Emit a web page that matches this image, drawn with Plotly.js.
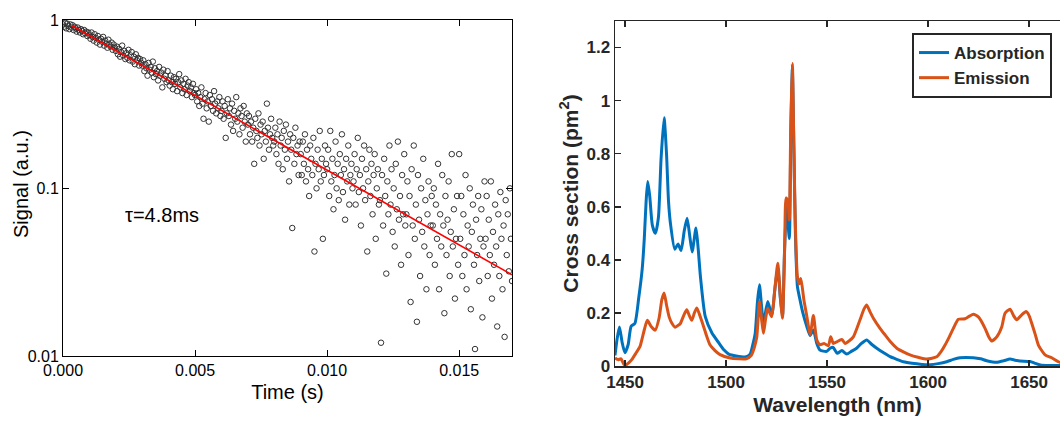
<!DOCTYPE html>
<html><head><meta charset="utf-8">
<script src="https://cdn.plot.ly/plotly-3.0.1.min.js"></script>
<style>html,body{margin:0;padding:0;background:#fff}#chart{width:1060px;height:426px}</style>
</head><body><div id="chart"></div>
<script>
// ---- Left panel: luminescence decay (time in ms, signal in a.u.) ----
const timeMs = [
0.00,0.04,0.08,0.12,0.16,0.20,0.24,0.28,0.32,0.36,0.40,0.44,0.48,0.52,0.56,0.60,0.64,0.68,0.72,0.76,0.80,0.84,0.88,0.92,0.96,
1.00,1.04,1.08,1.12,1.16,1.20,1.24,1.28,1.32,1.36,1.40,1.44,1.48,1.52,1.56,1.60,1.64,1.68,1.72,1.76,1.80,1.84,1.88,1.92,1.96,
2.00,2.04,2.08,2.12,2.16,2.20,2.24,2.28,2.32,2.36,2.40,2.44,2.48,2.52,2.56,2.60,2.64,2.68,2.72,2.76,2.80,2.84,2.88,2.92,2.96,
3.00,3.04,3.08,3.12,3.16,3.20,3.24,3.28,3.32,3.36,3.40,3.44,3.48,3.52,3.56,3.60,3.64,3.68,3.72,3.76,3.80,3.84,3.88,3.92,3.96,
4.00,4.04,4.08,4.12,4.16,4.20,4.24,4.28,4.32,4.36,4.40,4.44,4.48,4.52,4.56,4.60,4.64,4.68,4.72,4.76,4.80,4.84,4.88,4.92,4.96,
5.00,5.04,5.08,5.12,5.16,5.20,5.24,5.28,5.32,5.36,5.40,5.44,5.48,5.52,5.56,5.60,5.64,5.68,5.72,5.76,5.80,5.84,5.88,5.92,5.96,
6.00,6.04,6.08,6.12,6.16,6.20,6.24,6.28,6.32,6.36,6.40,6.44,6.48,6.52,6.56,6.60,6.64,6.68,6.72,6.76,6.80,6.84,6.88,6.92,6.96,
7.00,7.04,7.08,7.12,7.16,7.20,7.24,7.28,7.32,7.36,7.40,7.44,7.48,7.52,7.56,7.60,7.64,7.68,7.72,7.76,7.80,7.84,7.88,7.92,7.96,
8.00,8.04,8.08,8.12,8.16,8.20,8.24,8.28,8.32,8.36,8.40,8.44,8.48,8.52,8.56,8.60,8.64,8.68,8.72,8.76,8.80,8.84,8.88,8.92,8.96,
9.00,9.04,9.08,9.12,9.16,9.20,9.24,9.28,9.32,9.36,9.40,9.44,9.48,9.52,9.56,9.60,9.64,9.68,9.72,9.76,9.80,9.84,9.88,9.92,9.96,
10.00,10.04,10.08,10.12,10.16,10.20,10.24,10.28,10.32,10.36,10.40,10.44,10.48,10.52,10.56,10.60,10.64,10.68,10.72,10.76,10.80,10.84,10.88,10.92,10.96,
11.00,11.04,11.08,11.12,11.16,11.20,11.24,11.28,11.32,11.36,11.40,11.44,11.48,11.52,11.56,11.60,11.64,11.68,11.72,11.76,11.80,11.84,11.88,11.92,11.96,
12.00,12.04,12.08,12.12,12.16,12.20,12.24,12.28,12.32,12.36,12.40,12.44,12.48,12.52,12.56,12.60,12.64,12.68,12.72,12.76,12.80,12.84,12.88,12.92,12.96,
13.00,13.04,13.08,13.12,13.16,13.20,13.24,13.28,13.32,13.36,13.40,13.44,13.48,13.52,13.56,13.60,13.64,13.68,13.72,13.76,13.80,13.84,13.88,13.92,13.96,
14.00,14.04,14.08,14.12,14.16,14.20,14.24,14.28,14.32,14.36,14.40,14.44,14.48,14.52,14.56,14.60,14.64,14.68,14.72,14.76,14.80,14.84,14.88,14.92,14.96,
15.00,15.04,15.08,15.12,15.16,15.20,15.24,15.28,15.32,15.36,15.40,15.44,15.48,15.52,15.56,15.60,15.64,15.68,15.72,15.76,15.80,15.84,15.88,15.92,15.96,
16.00,16.04,16.08,16.12,16.16,16.20,16.24,16.28,16.32,16.36,16.40,16.44,16.48,16.52,16.56,16.60,16.64,16.68,16.72,16.76,16.80,16.84,16.88,16.92,16.96,
17.00];
const signal = [
0.95,0.92,0.97,0.90,0.96,0.93,0.89,0.95,0.91,0.94,0.88,0.92,0.90,0.86,0.91,0.88,0.85,0.89,0.87,0.83,0.88,0.84,0.86,0.81,0.85,
0.82,0.78,0.85,0.80,0.76,0.83,0.79,0.74,0.81,0.77,0.72,0.78,0.75,0.80,0.71,0.76,0.73,0.69,0.77,0.72,0.70,0.74,0.67,0.72,0.69,
0.66,0.70,0.63,0.68,0.61,0.65,0.71,0.62,0.66,0.59,0.64,0.60,0.67,0.58,0.62,0.65,0.57,0.61,0.55,0.63,0.58,0.60,0.54,0.59,0.56,
0.54,0.58,0.50,0.55,0.52,0.47,0.56,0.51,0.53,0.49,0.57,0.46,0.52,0.48,0.50,0.44,0.53,0.47,0.49,0.40,0.51,0.45,0.47,0.43,0.50,
0.44,0.41,0.47,0.43,0.39,0.46,0.42,0.45,0.38,0.43,0.48,0.40,0.44,0.37,0.42,0.39,0.45,0.36,0.41,0.43,0.38,0.40,0.35,0.42,0.37,
0.36,0.39,0.33,0.37,0.31,0.35,0.40,0.32,0.26,0.34,0.37,0.30,0.33,0.25,0.36,0.31,0.34,0.29,0.38,0.32,0.28,0.33,0.30,0.35,0.27,
0.29,0.33,0.26,0.31,0.20,0.28,0.34,0.27,0.30,0.24,0.32,0.22,0.29,0.26,0.35,0.25,0.28,0.21,0.30,0.27,0.23,0.31,0.25,0.19,0.28,
0.24,0.27,0.21,0.25,0.19,0.23,0.14,0.26,0.22,0.20,0.28,0.18,0.24,0.21,0.25,0.15,0.22,0.19,0.32,0.23,0.17,0.21,0.26,0.20,0.18,
0.19,0.23,0.16,0.21,0.14,0.25,0.18,0.20,0.13,0.22,0.17,0.24,0.15,0.19,0.11,0.21,0.17,0.058,0.20,0.14,0.23,0.16,0.18,0.12,0.19,
0.16,0.12,0.19,0.14,0.21,0.11,0.17,0.13,0.09,0.18,0.15,0.12,0.20,0.042,0.14,0.10,0.17,0.13,0.22,0.11,0.15,0.050,0.12,0.18,0.14,
0.13,0.17,0.09,0.22,0.11,0.15,0.075,0.12,0.19,0.10,0.14,0.085,0.16,0.12,0.21,0.095,0.13,0.065,0.15,0.11,0.18,0.08,0.12,0.14,0.10,
0.11,0.16,0.08,0.13,0.20,0.095,0.12,0.06,0.15,0.10,0.18,0.085,0.13,0.042,0.11,0.17,0.09,0.14,0.07,0.12,0.16,0.05,0.10,0.13,0.08,
0.085,0.012,0.12,0.06,0.15,0.09,0.031,0.11,0.07,0.18,0.08,0.13,0.055,0.10,0.045,0.14,0.075,0.19,0.065,0.09,0.035,0.12,0.07,0.16,0.06,
0.07,0.11,0.04,0.09,0.021,0.13,0.06,0.18,0.05,0.08,0.016,0.12,0.065,0.03,0.10,0.055,0.15,0.045,0.085,0.025,0.07,0.11,0.04,0.06,0.09,
0.06,0.10,0.035,0.08,0.05,0.14,0.025,0.07,0.045,0.12,0.06,0.018,0.09,0.04,0.065,0.11,0.03,0.055,0.16,0.045,0.075,0.022,0.05,0.09,0.035,
0.16,0.05,0.09,0.03,0.07,0.04,0.12,0.025,0.06,0.045,0.10,0.019,0.055,0.08,0.035,0.011,0.065,0.04,0.09,0.028,0.05,0.075,0.017,0.045,0.11,
0.05,0.09,0.03,0.065,0.04,0.11,0.022,0.055,0.035,0.08,0.045,0.015,0.07,0.03,0.095,0.05,0.025,0.06,0.013,0.085,0.04,0.07,0.032,0.1,0.05,
0.028];
// single-exponential fit (tau = 4.8 ms): end points of the red line
const fitTimeMs = [0.34, 17.0];
const fitSignal = [0.933, 0.0305];
const tauLabel = "τ=4.8ms";

// ---- Right panel: cross sections ----
const wavelengthAbs = [1445,1446,1447.2,1448.5,1449.9,1451.5,1453,1454.8,1456.8,1458.4,1459.5,1460.4,1461.2,1462.2,1463.5,1465,1466.5,1467.8,1469.3,1470.5,1471.5,1472.4,1474.6,1476.2,1477.7,1479.3,1480.7,1482,1483.2,1485.1,1486.2,1487.3,1489.7,1493,1496.4,1499,1501.3,1505,1510,1511.9,1513.2,1514.4,1515.5,1516.5,1517.5,1518.5,1520.6,1522.6,1524.3,1525.6,1526.8,1527.9,1529,1530,1531.3,1532,1532.8,1533.6,1534.3,1535.3,1536.3,1538,1540,1541.6,1543.2,1544.9,1546.5,1549.8,1551.5,1553,1555,1557.3,1559.7,1562,1564.6,1567,1569.6,1572,1574.6,1578,1581.2,1584.5,1587.8,1592,1597,1601,1605,1609.2,1612.5,1615.8,1622.4,1626,1629,1634,1637.5,1640.6,1643,1645.5,1650.5,1653,1655.6,1660,1666];
const absorption = [0.04,0.10,0.147,0.09,0.05,0.08,0.15,0.16,0.26,0.36,0.48,0.62,0.695,0.64,0.53,0.50,0.56,0.78,0.935,0.80,0.62,0.54,0.44,0.46,0.435,0.51,0.557,0.49,0.43,0.52,0.44,0.337,0.186,0.124,0.087,0.06,0.045,0.038,0.035,0.045,0.08,0.123,0.24,0.306,0.23,0.161,0.243,0.192,0.30,0.37,0.26,0.186,0.45,0.60,0.48,0.85,1.12,0.80,0.50,0.30,0.26,0.20,0.148,0.115,0.136,0.085,0.06,0.055,0.067,0.07,0.048,0.058,0.045,0.055,0.067,0.085,0.098,0.082,0.067,0.05,0.035,0.025,0.016,0.01,0.006,0.005,0.009,0.016,0.025,0.031,0.031,0.027,0.02,0.014,0.02,0.026,0.022,0.019,0.017,0.01,0.004,0.002,0.002];
const wavelengthEm = [1445,1446.5,1448,1449,1450,1451.5,1453.3,1455.5,1457.4,1459.3,1461,1462.8,1464.9,1466.8,1468.2,1469.3,1470.5,1471.8,1473.1,1474.8,1476,1477.2,1479,1480.5,1481.8,1483,1484.3,1485.5,1487,1488.8,1490.5,1492,1494.5,1497,1502,1506,1510,1512.5,1514,1515.2,1516.5,1517.5,1518.5,1519.6,1520.6,1521.6,1522.6,1524,1525.6,1526.8,1527.9,1529,1529.7,1530.6,1531.3,1532,1532.8,1533.5,1534.2,1535.3,1536.2,1537,1538.5,1540,1541.6,1543.2,1544.9,1546.5,1548.5,1550.6,1551.8,1553.1,1554.5,1557.3,1558.9,1561,1563,1566.3,1568.3,1569.6,1571.2,1572.9,1576.2,1578.7,1581.5,1584.5,1588,1591,1595,1599.4,1604.3,1606.5,1608.4,1610.5,1612.5,1615,1618.3,1620.5,1622.4,1625,1628.2,1630,1631.5,1634,1636.5,1638.1,1640.6,1642.3,1643.9,1646,1648.5,1650,1651.3,1653,1654.6,1657.9,1661.2,1664.5,1666];
const emission = [0.03,0.024,0.027,0.012,0.002,0.01,0.024,0.05,0.074,0.13,0.172,0.15,0.135,0.18,0.25,0.275,0.23,0.185,0.162,0.146,0.152,0.158,0.19,0.212,0.19,0.172,0.20,0.219,0.19,0.15,0.11,0.08,0.058,0.043,0.03,0.027,0.027,0.04,0.07,0.11,0.243,0.18,0.123,0.18,0.218,0.20,0.186,0.28,0.387,0.27,0.18,0.45,0.633,0.62,0.55,0.90,1.14,0.85,0.56,0.337,0.31,0.33,0.25,0.186,0.117,0.19,0.098,0.08,0.085,0.076,0.11,0.085,0.09,0.10,0.085,0.095,0.11,0.174,0.215,0.23,0.205,0.18,0.142,0.117,0.09,0.067,0.052,0.042,0.033,0.026,0.035,0.055,0.079,0.11,0.142,0.176,0.178,0.188,0.195,0.184,0.142,0.11,0.094,0.11,0.148,0.199,0.214,0.19,0.174,0.19,0.205,0.19,0.161,0.12,0.079,0.042,0.031,0.016,0.012];

const xTicksLeft = [0, 0.005, 0.010, 0.015];
const xMinorLeft = [0.0025, 0.0075, 0.0125];
const yTicksLeft = [0.01, 0.1, 1];
const yTickTextLeft = ['0.01', '0.1', '1'];
const yMinorLeft = [0.02,0.03,0.04,0.05,0.06,0.07,0.08,0.09,0.2,0.3,0.4,0.5,0.6,0.7,0.8,0.9];
const xTicksRight = [1450, 1500, 1550, 1600, 1650];
const yTicksRight = [0, 0.2, 0.4, 0.6, 0.8, 1, 1.2];
const yTickTextRight = ['0', '0.2', '0.4', '0.6', '0.8', '1', '1.2'];

const FONT = 'Liberation Sans, Arial, Helvetica, sans-serif';
const toSec = a => a.map(v => v / 1000);
const LEFT_X_RANGE = [0, 0.017];
const LEFT_Y_RANGE = [-2, 0.004];

const traces = [
  {x: toSec(timeMs), y: signal, type: 'scatter', mode: 'markers', xaxis: 'x', yaxis: 'y',
   marker: {symbol: 'circle-open', size: 5.5, color: '#333', line: {width: 1, color: '#333'}}, showlegend: false},
  {x: toSec(fitTimeMs), y: fitSignal, type: 'scatter', mode: 'lines', xaxis: 'x', yaxis: 'y',
   line: {color: '#ff0000', width: 1.6}, showlegend: false},
  {x: wavelengthAbs, y: absorption, type: 'scatter', mode: 'lines', name: 'Absorption', xaxis: 'x2', yaxis: 'y2',
   line: {color: '#0072BD', width: 3, shape: 'spline', smoothing: 0.6}},
  {x: wavelengthEm, y: emission, type: 'scatter', mode: 'lines', name: 'Emission', xaxis: 'x2', yaxis: 'y2',
   line: {color: '#D95319', width: 3, shape: 'spline', smoothing: 0.6}}
];

const layout = {
  width: 1060, height: 426,
  margin: {l: 0, r: 0, t: 0, b: 0},
  paper_bgcolor: '#fff', plot_bgcolor: '#fff',
  font: {family: FONT, color: '#000'},
  xaxis: {
    domain: [63/1060, 512/1060], anchor: 'y', range: LEFT_X_RANGE,
    tickmode: 'array', tickvals: xTicksLeft, tickformat: '.3f',
    ticks: 'inside', ticklen: 6, tickcolor: '#000', tickwidth: 1,
    showline: true, linecolor: '#000', linewidth: 1, mirror: 'ticks',
    showgrid: false, zeroline: false,
    tickfont: {size: 16, family: FONT},
    title: {text: 'Time (s)', font: {size: 20, family: FONT}, standoff: 6}
  },
  // minor ticks of the left panel (x)
  xaxis3: {
    overlaying: 'x', anchor: 'y', range: LEFT_X_RANGE,
    tickmode: 'array', tickvals: xMinorLeft, showticklabels: false,
    ticks: 'inside', ticklen: 4, tickcolor: '#000', tickwidth: 1,
    showline: true, linecolor: '#000', linewidth: 1, mirror: 'ticks',
    showgrid: false, zeroline: false
  },
  yaxis: {
    domain: [70/426, 406/426], anchor: 'x', type: 'log', range: LEFT_Y_RANGE,
    tickmode: 'array', tickvals: yTicksLeft, ticktext: yTickTextLeft,
    ticks: 'inside', ticklen: 6, tickcolor: '#000',
    showline: true, linecolor: '#000', linewidth: 1, mirror: 'ticks',
    showgrid: false, zeroline: false,
    tickfont: {size: 16, family: FONT}
  },
  // minor ticks of the left panel (log y)
  yaxis3: {
    overlaying: 'y', anchor: 'x', type: 'log', range: LEFT_Y_RANGE,
    tickmode: 'array', tickvals: yMinorLeft, showticklabels: false,
    ticks: 'inside', ticklen: 4, tickcolor: '#000',
    showline: true, linecolor: '#000', linewidth: 1, mirror: 'ticks',
    showgrid: false, zeroline: false
  },
  xaxis2: {
    domain: [615/1060, 1], anchor: 'y2', range: [1445, 1665.3],
    tickmode: 'array', tickvals: xTicksRight,
    ticks: 'inside', ticklen: 6, tickcolor: '#262626', tickwidth: 1.5,
    showline: true, linecolor: '#262626', linewidth: 1.5, mirror: 'ticks',
    showgrid: false, zeroline: false,
    tickfont: {size: 17, family: FONT, weight: 700, color: '#262626'},
    title: {text: 'Wavelength (nm)', font: {size: 21, family: FONT, weight: 700, color: '#262626'}, standoff: 6}
  },
  yaxis2: {
    domain: [60/426, 405/426], anchor: 'x2', range: [0, 1.3],
    tickmode: 'array', tickvals: yTicksRight, ticktext: yTickTextRight,
    ticks: 'inside', ticklen: 6, tickcolor: '#262626', tickwidth: 1.5,
    showline: true, linecolor: '#262626', linewidth: 1.5,
    showgrid: false, zeroline: false,
    tickfont: {size: 17, family: FONT, weight: 700, color: '#262626'},
    title: {text: 'Cross section (pm<sup>2</sup>)', font: {size: 21, family: FONT, weight: 700, color: '#262626'}, standoff: 2}
  },
  legend: {
    x: 1052/1060, xanchor: 'right', y: 393/426, yanchor: 'top',
    bgcolor: '#fff', bordercolor: '#262626', borderwidth: 2,
    font: {size: 17, family: FONT, weight: 700, color: '#262626'},
    tracegroupgap: 0
  },
  annotations: [
    {text: 'Signal (a.u.)', xref: 'paper', yref: 'paper', x: 21/1060, y: (426-184)/426,
     xanchor: 'center', yanchor: 'middle', textangle: -90, showarrow: false,
     font: {size: 20, family: FONT, color: '#000'}},
    {text: tauLabel, xref: 'paper', yref: 'paper', x: 123/1060, y: (426-215)/426,
     xanchor: 'left', yanchor: 'middle', showarrow: false, font: {size: 20, family: FONT, color: '#000'}}
  ]
};

Plotly.newPlot('chart', traces, layout, {displayModeBar: false, staticPlot: true});
</script>
</body></html>
